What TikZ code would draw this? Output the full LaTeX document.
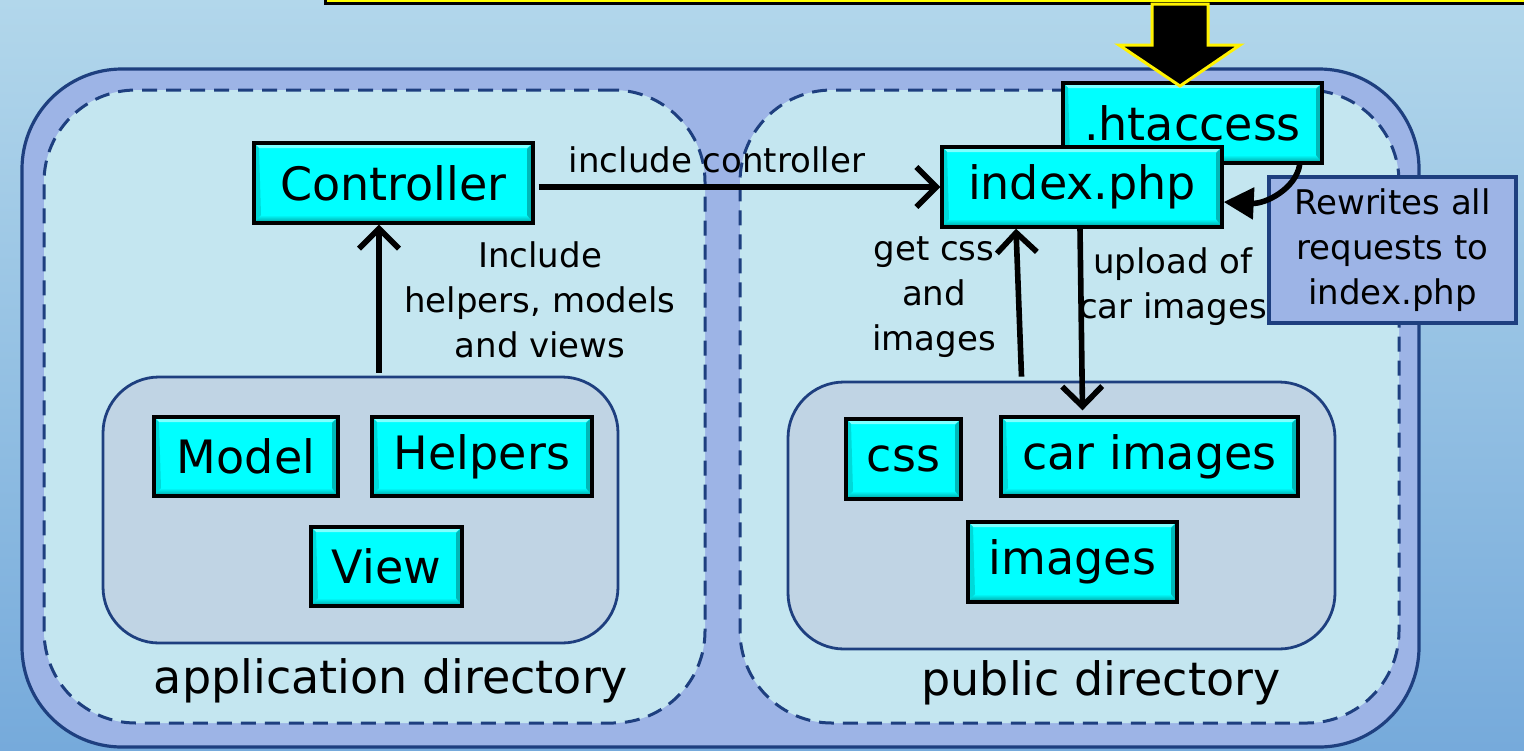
\documentclass[tikz,border=0pt]{standalone}
\usepackage{fontspec}
\setmainfont{DejaVu Sans}
\usetikzlibrary{arrows.meta,calc}

\definecolor{bgtop}{HTML}{B2D7EB}
\definecolor{bgbot}{HTML}{76AADB}
\definecolor{navy}{HTML}{1E3F7F}
\definecolor{periwinkle}{HTML}{9DB4E6}
\definecolor{dirfill}{HTML}{C4E6F0}
\definecolor{grpfill}{HTML}{C0D4E4}
\definecolor{boxcyan}{HTML}{00FFFF}
\definecolor{bevdark}{HTML}{009A9A}
\definecolor{bevside}{HTML}{00B8B8}
\definecolor{bevlight}{HTML}{7FFFFF}
\definecolor{notefill}{HTML}{FFFF00}

\newcommand{\boxfont}{\fontsize{23}{27}\selectfont}
\newcommand{\lblfont}{\fontsize{17}{22.5}\selectfont}

\tikzset{
  outerbox/.style={draw=navy, line width=1.6pt, fill=periwinkle, rounded corners=50pt, inner sep=0pt},
  dirbox/.style={draw=navy, line width=1.5pt, dash pattern=on 7.5pt off 4.5pt, fill=dirfill, rounded corners=46pt, inner sep=0pt},
  grpbox/.style={draw=navy, line width=1.4pt, fill=grpfill, rounded corners=28pt, inner sep=0pt},
  cbox/.style={draw=black, line width=1.7pt, fill=boxcyan, inner sep=0pt, font=\boxfont,
    path picture={
      \coordinate (pp-sw) at (path picture bounding box.south west);
      \coordinate (pp-ne) at (path picture bounding box.north east);
      \coordinate (pp-se) at (pp-sw -| pp-ne);
      \coordinate (pp-nw) at (pp-sw |- pp-ne);
      \shade[top color=boxcyan, bottom color=bevdark]
        ([shift={(3.5pt,4pt)}]pp-sw) -- ([shift={(-3pt,4pt)}]pp-se) -- (pp-se) -- (pp-sw) -- cycle;
      \fill[bevside] (pp-se) -- (pp-ne) -- ([shift={(-3pt,-3pt)}]pp-ne) -- ([shift={(-3pt,4pt)}]pp-se) -- cycle;
      \fill[bevlight] (pp-nw) -- (pp-ne) -- ([shift={(-3pt,-2.5pt)}]pp-ne) -- ([shift={(2.5pt,-2.5pt)}]pp-nw) -- cycle;
      \fill[boxcyan!85!black] (pp-nw) -- ([shift={(2.5pt,-2.5pt)}]pp-nw) -- ([shift={(3.5pt,4pt)}]pp-sw) -- (pp-sw) -- cycle;
    }},
  notebox/.style={draw=navy, line width=1.6pt, fill=periwinkle, inner sep=0pt, align=center, font=\lblfont},
  lbl/.style={align=center, font=\lblfont, inner sep=0pt},
  dirlbl/.style={font=\fontsize{23}{27}\selectfont, inner sep=0pt},
  arr/.style={line width=2.8pt, -{Straight Barb[length=10pt,width=20pt]}},
  tri/.style={line width=2.8pt, -{Triangle[length=15pt,width=15.5pt]}}
}

\begin{document}
\begin{tikzpicture}[x=0.5pt,y=-0.5pt]
  \useasboundingbox (0,0) rectangle (1524,750);
  \clip (0,0) rectangle (1524,750);

  % backdrop
  \shade[top color=bgtop, bottom color=bgbot] (0,0) rectangle (1524,750);

  % note strip along the top edge
  \draw[fill=notefill, draw=black, line width=1.5pt] (325,-40) rectangle (1560,3);

  % containers
  \node[outerbox, minimum width=698.5pt, minimum height=339pt] (outer) at (720.5,408) {};
  \node[dirbox, minimum width=330.5pt, minimum height=316.5pt] (appdir) at (374.5,406.5) {};
  \node[dirbox, minimum width=329.5pt, minimum height=316.5pt] (pubdir) at (1069.5,406.5) {};
  \node[grpbox, minimum width=257.5pt, minimum height=133pt] (grpL) at (360.5,510) {};
  \node[grpbox, minimum width=273.5pt, minimum height=133.5pt] (grpR) at (1061.5,515.5) {};

  % directory captions
  \node[dirlbl] (appcap) at (391,681) {application directory};
  \node[dirlbl] (pubcap) at (1101,683) {public directory};

  % file boxes
  \node[cbox, minimum width=139.5pt, minimum height=40pt] (ctl) at (393.5,183) {Controller};
  \node[cbox, minimum width=129.5pt, minimum height=40pt] (hta) at (1192.5,123) {.htaccess};
  \node[cbox, minimum width=140pt, minimum height=40pt] (idx) at (1082,187) {index.php};
  \node[cbox, minimum width=92pt, minimum height=39.5pt] (model) at (246,456.5) {Model};
  \node[cbox, minimum width=110pt, minimum height=39.5pt] (help) at (482,456.5) {Helpers};
  \node[cbox, minimum width=75.5pt, minimum height=39.5pt] (view) at (386.5,566.5) {View};
  \node[cbox, minimum width=57.5pt, minimum height=40pt] (css) at (903.5,459) {css};
  \node[cbox, minimum width=148.5pt, minimum height=39.5pt] (car) at (1149.5,456.5) {car images};
  \node[cbox, minimum width=104.5pt, minimum height=40pt] (img) at (1072.5,562) {images};

  % note on the rewrite rule
  \node[notebox, minimum width=123.5pt, minimum height=73pt] (note) at (1392.5,250)
    {Rewrites all\\requests to\\index.php};

  % connector labels
  \node[lbl] (lctl) at (717,160) {include controller};
  \node[lbl] (linc) at (540,300) {Include\\helpers, models\\and views};
  \node[lbl] (lget) at (934,297) {get css\\and\\images};
  \node[lbl] (lup) at (1173,287) {upload of\\car images};

  % connectors
  \draw[arr, shorten <=2pt] (ctl.east |- idx.west) -- (idx.west);
  \coordinate (ctlin) at ($(ctl.south)+(-14.5,0)$);
  \draw[arr] ($(grpL.north -| ctlin)+(0,-3)$) -- (ctlin);
  \draw[arr] ($(grpR.north)+(-40,-4)$) -- ($(idx.south)+(-66,0)$);
  \draw[arr] ($(idx.south)+(-2,0)$) -- ($(car.north)+(-67,-5)$);
  \draw[tri] ($(hta.south east)+(-24,0)$) .. controls +(-4,24) and +(42,2) .. ($(idx.east)+(0,15)$);

  % incoming request arrow
  \draw[fill=black, draw=yellow, line width=1.5pt, line join=miter]
    (1152,4) -- (1208,4) -- (1208,45) -- (1240,45) -- (1180,86) -- (1119,45) -- (1152,45) -- cycle;
\end{tikzpicture}
\end{document}
